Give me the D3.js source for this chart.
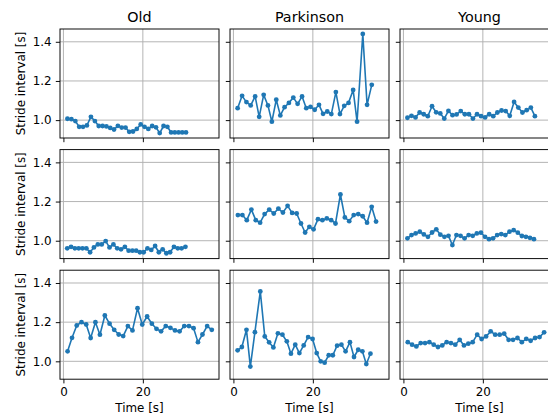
<!DOCTYPE html>
<html>
<head>
<meta charset="utf-8">
<script src="https://cdn.jsdelivr.net/npm/d3@7"></script>
<style>
body { margin: 0; background: #fff; overflow: hidden; }
svg { display: block; font-family: "DejaVu Sans", sans-serif; }
</style>
</head>
<body>
<div id="chart"></div>
<script>
// stride intervals [s], one array per subject
const groups = ["Old", "Parkinson", "Young"]

const old1 = [1.007, 1.005, 0.995, 0.966, 0.966, 0.973, 1.017, 0.995, 0.970, 0.970, 0.968, 0.960, 0.952, 0.971, 0.962, 0.962,
    0.940, 0.942, 0.955, 0.978, 0.966, 0.955, 0.970, 0.963, 0.934, 0.970, 0.966, 0.937, 0.937, 0.937, 0.937, 0.937]
const old2 = [0.961, 0.969, 0.961, 0.961, 0.961, 0.961, 0.941, 0.966, 0.981, 0.981, 0.998, 0.966, 0.981, 0.961, 0.956, 0.969,
    0.949, 0.949, 0.949, 0.941, 0.941, 0.961, 0.953, 0.973, 0.941, 0.956, 0.936, 0.941, 0.969, 0.961, 0.961, 0.969]
const old3 = [1.051, 1.120, 1.183, 1.200, 1.188, 1.119, 1.200, 1.136, 1.234, 1.192, 1.161, 1.137, 1.129, 1.180, 1.158, 1.271,
    1.188, 1.229, 1.192, 1.166, 1.153, 1.180, 1.171, 1.158, 1.153, 1.180, 1.180, 1.169, 1.098, 1.137, 1.180, 1.161]

const park1 = [1.061, 1.124, 1.092, 1.075, 1.121, 1.017, 1.129, 1.075, 0.992, 1.104, 1.024, 1.066, 1.088, 1.115, 1.083, 1.121,
    1.061, 1.068, 1.053, 1.078, 1.032, 1.044, 1.031, 1.143, 1.031, 1.073, 1.088, 1.154, 0.992, 1.440, 1.078, 1.180]
const park2 = [1.131, 1.131, 1.105, 1.159, 1.105, 1.092, 1.136, 1.159, 1.139, 1.164, 1.144, 1.178, 1.142, 1.139, 1.088, 1.042,
    1.071, 1.058, 1.110, 1.105, 1.114, 1.105, 1.088, 1.236, 1.119, 1.100, 1.131, 1.136, 1.125, 1.092, 1.173, 1.098]
const park3 = [1.056, 1.073, 1.161, 0.973, 1.149, 1.357, 1.127, 1.097, 1.071, 1.143, 1.136, 1.102, 1.039, 1.085, 1.042, 1.081,
    1.124, 1.114, 1.042, 1.000, 0.993, 1.031, 1.031, 1.080, 1.085, 1.051, 1.098, 1.022, 1.059, 1.051, 0.986, 1.039]

const young1 = [1.012, 1.022, 1.014, 1.039, 1.030, 1.020, 1.071, 1.040, 1.034, 1.008, 1.047, 1.025, 1.029, 1.046, 1.030, 1.030,
    1.008, 1.030, 1.020, 1.014, 1.030, 1.020, 1.039, 1.049, 1.046, 1.022, 1.093, 1.064, 1.039, 1.051, 1.064, 1.020]
const young2 = [1.012, 1.029, 1.037, 1.046, 1.032, 1.020, 1.042, 1.058, 1.031, 1.020, 1.025, 0.978, 1.029, 1.025, 1.012, 1.029,
    1.025, 1.037, 1.041, 1.020, 1.008, 1.012, 1.029, 1.034, 1.029, 1.046, 1.054, 1.041, 1.024, 1.020, 1.015, 1.008]
const young3 = [1.098, 1.085, 1.076, 1.093, 1.093, 1.098, 1.085, 1.073, 1.081, 1.098, 1.093, 1.085, 1.110, 1.081, 1.090, 1.098,
    1.136, 1.114, 1.127, 1.153, 1.136, 1.136, 1.141, 1.110, 1.110, 1.119, 1.098, 1.115, 1.105, 1.119, 1.124, 1.148]

const yTicks = [1.0, 1.2, 1.4]
const xTicks = [0, 20]

// rows = subjects, columns = groups
const grid = [
    [old1, park1, young1],
    [old2, park2, young2],
    [old3, park3, young3]
]

const conf = {
    width: 548,
    height: 417,
    left: 60,
    top: 29,
    panelW: 159,
    panelH: 109,
    colStep: 170,
    rowStep: 120.6,
    color: "#1f77b4",
    tick: 4.2,
    pad: 4.2
}

// elapsed time is the running sum of the stride intervals
let series = grid.map(row => row.map(s => {
    let t = d3.cumsum(s)
    return s.map((v, i) => ({t: t[i], v: v}))
}))

let all = series.flat(2)
let tExt = d3.extent(all, d => d.t)
let vExt = d3.extent(all, d => d.v)
let tPad = (tExt[1] - tExt[0]) * 0.05
let vPad = (vExt[1] - vExt[0]) * 0.05

let x = d3.scaleLinear().domain([tExt[0] - tPad, tExt[1] + tPad]).range([0, conf.panelW])
let y = d3.scaleLinear().domain([vExt[0] - vPad, vExt[1] + vPad]).range([conf.panelH, 0])

let svg = d3.select("#chart").append("svg")
    .attr("width", conf.width)
    .attr("height", conf.height)

svg.append("rect").attr("width", conf.width).attr("height", conf.height).attr("fill", "#fff")

let line = d3.line().x(d => x(d.t)).y(d => y(d.v))

series.forEach((row, r) => {
    row.forEach((pts, c) => {
        let x0 = conf.left + c * conf.colStep
        let y0 = conf.top + r * conf.rowStep
        let g = svg.append("g").attr("transform", "translate(" + x0 + "," + y0 + ")")

        // grid lines
        g.selectAll("line.gx").data(xTicks).join("line")
            .attr("class", "gx")
            .attr("x1", d => x(d)).attr("x2", d => x(d))
            .attr("y1", 0).attr("y2", conf.panelH)
            .attr("stroke", "#b0b0b0").attr("stroke-width", 0.95)
        g.selectAll("line.gy").data(yTicks).join("line")
            .attr("class", "gy")
            .attr("x1", 0).attr("x2", conf.panelW)
            .attr("y1", d => y(d)).attr("y2", d => y(d))
            .attr("stroke", "#b0b0b0").attr("stroke-width", 0.95)

        g.append("path")
            .datum(pts)
            .attr("d", line)
            .attr("fill", "none")
            .attr("stroke", conf.color)
            .attr("stroke-width", 1.6)
            .attr("stroke-linejoin", "round")

        g.selectAll("circle").data(pts).join("circle")
            .attr("cx", d => x(d.t))
            .attr("cy", d => y(d.v))
            .attr("r", 2.4)
            .attr("fill", conf.color)

        let yAxis = d3.axisLeft(y)
            .tickValues(yTicks)
            .tickSize(conf.tick)
            .tickPadding(conf.pad)
            .tickFormat(c === 0 ? d3.format(".1f") : () => "")
        let xAxis = d3.axisBottom(x)
            .tickValues(xTicks)
            .tickSize(conf.tick)
            .tickPadding(conf.pad)
            .tickFormat(r === 2 ? d3.format("d") : () => "")

        g.append("g").attr("class", "y axis").call(yAxis)
        g.append("g").attr("class", "x axis")
            .attr("transform", "translate(0," + conf.panelH + ")")
            .call(xAxis)
        g.selectAll(".axis .domain").remove()
        g.selectAll(".axis text")
            .attr("font-size", 11.9)
            .attr("font-family", "DejaVu Sans")
            .attr("fill", "#000")
        g.selectAll(".axis line").attr("stroke", "#000").attr("stroke-width", 0.95)

        // frame
        g.append("rect")
            .attr("width", conf.panelW)
            .attr("height", conf.panelH)
            .attr("fill", "none")
            .attr("stroke", "#000")
            .attr("stroke-width", 0.95)

        if (r === 0) {
            g.append("text")
                .attr("x", conf.panelW / 2)
                .attr("y", -7)
                .attr("text-anchor", "middle")
                .attr("font-size", 14.3)
                .text(groups[c])
        }
        if (c === 0) {
            g.append("text")
                .attr("transform", "translate(" + (24.5 - x0) + "," + conf.panelH / 2 + ") rotate(-90)")
                .attr("text-anchor", "middle")
                .attr("font-size", 11.9)
                .text("Stride interval [s]")
        }
        if (r === 2) {
            g.append("text")
                .attr("x", conf.panelW / 2)
                .attr("y", 412.5 - y0)
                .attr("text-anchor", "middle")
                .attr("font-size", 11.9)
                .text("Time [s]")
        }
    })
})
</script>
</body>
</html>
